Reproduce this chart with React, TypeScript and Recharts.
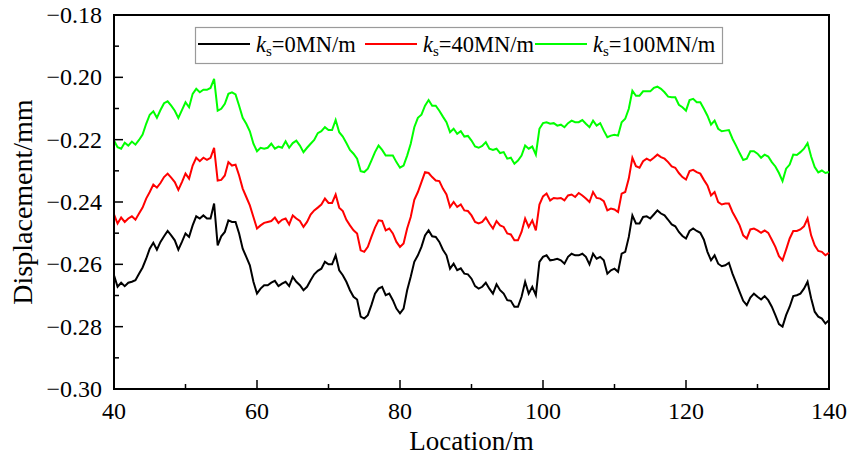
import React from 'react';
import { LineChart, Line, XAxis, YAxis, Legend, ReferenceArea, Label } from 'recharts';

// Location along the track (m), sampled every 0.5 m
const locations: number[] = Array.from({ length: 201 }, (_, i) => 40 + i * 0.5);

// Displacement (mm) for k_s = 0 MN/m
const disp0: number[] = [
  -0.2635, -0.2672, -0.2659, -0.2670, -0.2659, -0.2656, -0.2651, -0.2630, -0.2610, -0.2582,
  -0.2550, -0.2531, -0.2553, -0.2528, -0.2510, -0.2493, -0.2507, -0.2523, -0.2553, -0.2528,
  -0.2501, -0.2512, -0.2475, -0.2446, -0.2453, -0.2443, -0.2453, -0.2453, -0.2405, -0.2539,
  -0.2510, -0.2496, -0.2459, -0.2464, -0.2464, -0.2501, -0.2550, -0.2576, -0.2603, -0.2656,
  -0.2694, -0.2678, -0.2667, -0.2667, -0.2659, -0.2653, -0.2670, -0.2662, -0.2656, -0.2670,
  -0.2640, -0.2656, -0.2667, -0.2683, -0.2672, -0.2651, -0.2632, -0.2621, -0.2614, -0.2592,
  -0.2600, -0.2600, -0.2571, -0.2619, -0.2635, -0.2656, -0.2683, -0.2704, -0.2713, -0.2768,
  -0.2774, -0.2763, -0.2731, -0.2694, -0.2678, -0.2672, -0.2699, -0.2694, -0.2715, -0.2742,
  -0.2757, -0.2742, -0.2683, -0.2640, -0.2592, -0.2571, -0.2544, -0.2507, -0.2491, -0.2510,
  -0.2512, -0.2528, -0.2553, -0.2571, -0.2614, -0.2598, -0.2619, -0.2613, -0.2630, -0.2632,
  -0.2646, -0.2670, -0.2678, -0.2672, -0.2659, -0.2678, -0.2694, -0.2664, -0.2683, -0.2694,
  -0.2715, -0.2717, -0.2736, -0.2736, -0.2704, -0.2656, -0.2694, -0.2672, -0.2699, -0.2592,
  -0.2576, -0.2571, -0.2587, -0.2585, -0.2582, -0.2587, -0.2598, -0.2576, -0.2566, -0.2571,
  -0.2571, -0.2566, -0.2576, -0.2600, -0.2566, -0.2582, -0.2576, -0.2587, -0.2630, -0.2619,
  -0.2614, -0.2624, -0.2566, -0.2560, -0.2512, -0.2443, -0.2469, -0.2469, -0.2448, -0.2446,
  -0.2453, -0.2440, -0.2427, -0.2437, -0.2443, -0.2457, -0.2472, -0.2478, -0.2496, -0.2509,
  -0.2517, -0.2493, -0.2485, -0.2493, -0.2499, -0.2521, -0.2560, -0.2587, -0.2571, -0.2598,
  -0.2606, -0.2603, -0.2595, -0.2630, -0.2659, -0.2688, -0.2717, -0.2731, -0.2707, -0.2694,
  -0.2704, -0.2713, -0.2702, -0.2715, -0.2736, -0.2763, -0.2792, -0.2800, -0.2763, -0.2736,
  -0.2702, -0.2699, -0.2694, -0.2678, -0.2656, -0.2709, -0.2752, -0.2768, -0.2774, -0.2790,
  -0.2779,
];

// Displacement (mm) for k_s = 40 MN/m
const disp40: number[] = [
  -0.2440, -0.2469, -0.2450, -0.2464, -0.2453, -0.2446, -0.2457, -0.2437, -0.2418, -0.2389,
  -0.2368, -0.2344, -0.2354, -0.2339, -0.2320, -0.2309, -0.2322, -0.2336, -0.2361, -0.2336,
  -0.2309, -0.2325, -0.2283, -0.2258, -0.2269, -0.2258, -0.2265, -0.2258, -0.2226, -0.2331,
  -0.2329, -0.2315, -0.2272, -0.2283, -0.2280, -0.2315, -0.2357, -0.2384, -0.2411, -0.2448,
  -0.2485, -0.2475, -0.2467, -0.2464, -0.2461, -0.2450, -0.2467, -0.2457, -0.2453, -0.2472,
  -0.2443, -0.2453, -0.2461, -0.2480, -0.2464, -0.2440, -0.2427, -0.2418, -0.2408, -0.2389,
  -0.2403, -0.2403, -0.2376, -0.2418, -0.2429, -0.2457, -0.2475, -0.2491, -0.2501, -0.2555,
  -0.2560, -0.2544, -0.2512, -0.2482, -0.2459, -0.2461, -0.2491, -0.2485, -0.2501, -0.2528,
  -0.2544, -0.2533, -0.2485, -0.2448, -0.2393, -0.2368, -0.2336, -0.2304, -0.2307, -0.2320,
  -0.2331, -0.2333, -0.2357, -0.2376, -0.2416, -0.2400, -0.2416, -0.2408, -0.2427, -0.2429,
  -0.2443, -0.2464, -0.2469, -0.2464, -0.2450, -0.2469, -0.2485, -0.2461, -0.2475, -0.2480,
  -0.2501, -0.2504, -0.2523, -0.2523, -0.2496, -0.2453, -0.2480, -0.2459, -0.2491, -0.2408,
  -0.2382, -0.2373, -0.2395, -0.2387, -0.2389, -0.2387, -0.2395, -0.2379, -0.2376, -0.2384,
  -0.2371, -0.2379, -0.2389, -0.2400, -0.2368, -0.2387, -0.2389, -0.2397, -0.2427, -0.2421,
  -0.2424, -0.2432, -0.2373, -0.2368, -0.2325, -0.2258, -0.2285, -0.2290, -0.2269, -0.2261,
  -0.2267, -0.2258, -0.2248, -0.2256, -0.2261, -0.2272, -0.2286, -0.2290, -0.2307, -0.2320,
  -0.2328, -0.2301, -0.2297, -0.2304, -0.2309, -0.2329, -0.2347, -0.2379, -0.2368, -0.2400,
  -0.2408, -0.2405, -0.2405, -0.2432, -0.2453, -0.2475, -0.2507, -0.2517, -0.2488, -0.2485,
  -0.2491, -0.2499, -0.2491, -0.2499, -0.2521, -0.2544, -0.2574, -0.2587, -0.2553, -0.2517,
  -0.2493, -0.2493, -0.2488, -0.2478, -0.2453, -0.2507, -0.2539, -0.2557, -0.2560, -0.2571,
  -0.2563,
];

// Displacement (mm) for k_s = 100 MN/m
const disp100: number[] = [
  -0.2203, -0.2224, -0.2229, -0.2210, -0.2219, -0.2206, -0.2216, -0.2201, -0.2184, -0.2149,
  -0.2120, -0.2109, -0.2130, -0.2105, -0.2083, -0.2077, -0.2091, -0.2107, -0.2130, -0.2105,
  -0.2080, -0.2096, -0.2053, -0.2037, -0.2048, -0.2040, -0.2040, -0.2034, -0.2005, -0.2107,
  -0.2101, -0.2085, -0.2053, -0.2048, -0.2055, -0.2091, -0.2130, -0.2149, -0.2173, -0.2213,
  -0.2237, -0.2226, -0.2229, -0.2226, -0.2213, -0.2229, -0.2222, -0.2226, -0.2205, -0.2226,
  -0.2211, -0.2203, -0.2219, -0.2240, -0.2226, -0.2213, -0.2201, -0.2179, -0.2173, -0.2160,
  -0.2169, -0.2169, -0.2137, -0.2176, -0.2190, -0.2211, -0.2233, -0.2245, -0.2261, -0.2301,
  -0.2304, -0.2293, -0.2267, -0.2240, -0.2219, -0.2233, -0.2251, -0.2251, -0.2251, -0.2272,
  -0.2290, -0.2283, -0.2251, -0.2213, -0.2160, -0.2130, -0.2120, -0.2091, -0.2073, -0.2091,
  -0.2091, -0.2107, -0.2126, -0.2144, -0.2176, -0.2165, -0.2181, -0.2173, -0.2190, -0.2188,
  -0.2203, -0.2222, -0.2226, -0.2220, -0.2208, -0.2229, -0.2233, -0.2229, -0.2243, -0.2240,
  -0.2261, -0.2258, -0.2277, -0.2267, -0.2251, -0.2219, -0.2229, -0.2222, -0.2248, -0.2165,
  -0.2147, -0.2144, -0.2149, -0.2147, -0.2155, -0.2152, -0.2160, -0.2147, -0.2139, -0.2144,
  -0.2144, -0.2137, -0.2149, -0.2160, -0.2139, -0.2155, -0.2147, -0.2171, -0.2192, -0.2187,
  -0.2184, -0.2187, -0.2144, -0.2133, -0.2101, -0.2043, -0.2059, -0.2059, -0.2045, -0.2045,
  -0.2045, -0.2034, -0.2030, -0.2037, -0.2048, -0.2062, -0.2064, -0.2064, -0.2088, -0.2096,
  -0.2107, -0.2073, -0.2069, -0.2080, -0.2080, -0.2101, -0.2123, -0.2152, -0.2139, -0.2165,
  -0.2173, -0.2171, -0.2169, -0.2197, -0.2219, -0.2243, -0.2265, -0.2261, -0.2237, -0.2237,
  -0.2245, -0.2258, -0.2248, -0.2254, -0.2272, -0.2286, -0.2307, -0.2333, -0.2293, -0.2280,
  -0.2248, -0.2249, -0.2240, -0.2229, -0.2211, -0.2254, -0.2288, -0.2305, -0.2299, -0.2307,
  -0.2304,
];

// Axis ticks: every value gets a tick mark, every other one a label
const xTicks: number[] = [40, 50, 60, 70, 80, 90, 100, 110, 120, 130, 140];
const yTicks: number[] = [-0.3, -0.29, -0.28, -0.27, -0.26, -0.25, -0.24, -0.23, -0.22, -0.21, -0.2, -0.19, -0.18];

// Legend value text for each stiffness case
const stiffnessLabels: string[] = ['0MN/m', '40MN/m', '100MN/m'];
const seriesColors: string[] = ['#000000', '#ff0000', '#00ff00'];
const seriesKeys: string[] = ['k0', 'k40', 'k100'];

const rows = locations.map((x, i) => ({
  x,
  k0: disp0[i],
  k40: disp40[i],
  k100: disp100[i],
}));

const FONT = '"Liberation Serif", "Times New Roman", serif';
const X_TICK_MARGIN = 30;
const Y_TICK_MARGIN = 12;

const fmtY = (v: number) => '\u2212' + Math.abs(v).toFixed(2);

function XTick(props: any) {
  const { x, y, payload } = props;
  const v = Number(payload.value);
  const major = Math.round(v) % 20 === 0;
  const axisY = y - X_TICK_MARGIN;
  return (
    <g>
      <line x1={x} x2={x} y1={axisY} y2={axisY - (major ? 9 : 5)} stroke="#000" strokeWidth={1.5} />
      {major && (
        <text x={x} y={y} textAnchor="middle" fontFamily={FONT} fontSize={24} fill="#000">
          {v}
        </text>
      )}
    </g>
  );
}

function YTick(props: any) {
  const { x, y, payload } = props;
  const v = Number(payload.value);
  const major = Math.round(Math.abs(v) * 100) % 2 === 0;
  const axisX = x + Y_TICK_MARGIN;
  return (
    <g>
      <line x1={axisX} x2={axisX + (major ? 9 : 5)} y1={y} y2={y} stroke="#000" strokeWidth={1.5} />
      {major && (
        <text x={x} y={y + 8} textAnchor="end" fontFamily={FONT} fontSize={24} fill="#000">
          {fmtY(v)}
        </text>
      )}
    </g>
  );
}

// Horizontal offsets of the three legend entries inside the legend box
const legendSlots: number[] = [3, 170, 340];

function LegendBox(props: any) {
  const raw: any[] = props.payload || [];
  // keep the entries in series order (0, 40, 100)
  const payload = [...raw].sort(
    (a, b) => seriesKeys.indexOf(String(a.dataKey)) - seriesKeys.indexOf(String(b.dataKey))
  );
  return (
    <svg width={528} height={37} style={{ display: 'block', overflow: 'visible' }}>
      <rect x={0.5} y={0.5} width={527} height={36} fill="#fff" stroke="#9a9a9a" strokeWidth={1.2} />
      {payload.map((entry, i) => {
        const left = legendSlots[i];
        return (
          <g key={String(entry.value)}>
            <line x1={left} x2={left + 52} y1={17} y2={17} stroke={entry.color} strokeWidth={2} />
            <text x={left + 58} y={25} fontFamily={FONT} fontSize={22.5} fill="#000">
              <tspan fontStyle="italic">k</tspan>
              <tspan fontSize={15} dy={4}>s</tspan>
              <tspan dy={-4}>={entry.value}</tspan>
            </text>
          </g>
        );
      })}
    </svg>
  );
}

export default function App() {
  return (
    <div style={{ position: 'absolute', left: 0, top: 0, width: 860, height: 459, background: '#fff' }}>
      <LineChart width={860} height={459} data={rows} margin={{ top: 15, right: 31, bottom: 0, left: 0 }}>
        <XAxis
          dataKey="x"
          type="number"
          domain={[40, 140]}
          ticks={xTicks}
          interval={0}
          height={70}
          tickSize={0}
          tickMargin={X_TICK_MARGIN}
          tickLine={false}
          axisLine={{ stroke: '#000', strokeWidth: 2 }}
          tick={<XTick />}
        >
          <Label
            content={(p: any) => {
              const vb = p.viewBox || { x: 114, y: 389, width: 715, height: 70 };
              return (
                <text x={vb.x + vb.width / 2} y={vb.y + 61} textAnchor="middle" fontFamily={FONT} fontSize={27} fill="#000">
                  Location/m
                </text>
              );
            }}
          />
        </XAxis>
        <YAxis
          type="number"
          domain={[-0.3, -0.18]}
          ticks={yTicks}
          interval={0}
          width={114}
          tickSize={0}
          tickMargin={Y_TICK_MARGIN}
          tickLine={false}
          axisLine={{ stroke: '#000', strokeWidth: 2 }}
          tick={<YTick />}
        >
          <Label
            content={(p: any) => {
              const vb = p.viewBox || { x: 0, y: 15, width: 114, height: 374 };
              const cx = vb.x + 32;
              const cy = vb.y + vb.height / 2;
              return (
                <text
                  x={cx}
                  y={cy}
                  textAnchor="middle"
                  transform={`rotate(-90 ${cx} ${cy})`}
                  fontFamily={FONT}
                  fontSize={28}
                  fill="#000"
                >
                  Displacement/mm
                </text>
              );
            }}
          />
        </YAxis>
        <ReferenceArea x1={40} x2={140} y1={-0.3} y2={-0.18} fill="none" stroke="#000" strokeWidth={2} />
        {seriesKeys.map((key, i) => (
          <Line
            key={key}
            dataKey={key}
            name={stiffnessLabels[i]}
            stroke={seriesColors[i]}
            strokeWidth={2}
            dot={false}
            activeDot={false}
            type="linear"
            isAnimationActive={false}
          />
        ))}
        <Legend
          layout="horizontal"
          verticalAlign="middle"
          align="center"
          content={<LegendBox />}
          wrapperStyle={{ position: 'absolute', left: 195, top: 27, width: 528, height: 37 }}
        />
      </LineChart>
    </div>
  );
}
